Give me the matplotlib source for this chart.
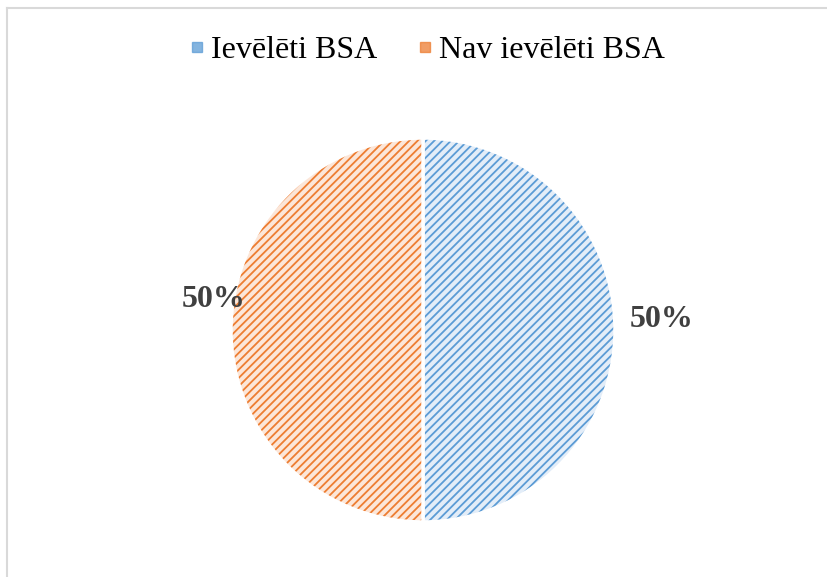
import matplotlib
matplotlib.use("Agg")
import matplotlib.pyplot as plt
from matplotlib.lines import Line2D

labels = ["Ievēlēti BSA", "Nav ievēlēti BSA"]
values = [50, 50]
colors = ["#5B9BD5", "#ED7D31"]
tints = ["#E3EDF8", "#FCE6D8"]

plt.rcParams["font.family"] = ["Liberation Serif", "DejaVu Serif"]
plt.rcParams["hatch.linewidth"] = 1.3

fig = plt.figure(figsize=(8.28, 5.77), dpi=100)
ax = fig.add_axes([0, 0, 1, 1])

wedges, _ = ax.pie(values, colors=tints, startangle=90, counterclock=False,
                   center=(423, 247), radius=192,
                   wedgeprops=dict(edgecolor="white", linewidth=2.5))
for w, c in zip(wedges, colors):
    w.set_hatch("////")
    w._hatch_color = matplotlib.colors.to_rgba(c)

# percentage labels (Excel best-fit positions)
total = sum(values)
ax.text(662, 257, f"{values[0] / total:.0%}", ha="center", va="center",
        fontsize=23, fontweight="bold", color="#404040")
ax.text(214, 277, f"{values[1] / total:.0%}", ha="center", va="center",
        fontsize=23, fontweight="bold", color="#404040")

ax.set_xlim(0, 828)
ax.set_ylim(0, 577)
ax.axis("off")

handles = [Line2D([], [], marker="s", markersize=7, linestyle="none",
                  color=c, alpha=0.75) for c in colors]
fig.legend(handles, labels, loc="center", bbox_to_anchor=(0.517, 0.912),
           ncol=2, frameon=False, fontsize=23, handlelength=0.32,
           handletextpad=0.28, columnspacing=1.33)

# chart area border (top and left visible)
fig.add_artist(Line2D([7 / 828, 1], [1 - 8 / 577, 1 - 8 / 577],
                      transform=fig.transFigure, color="#D9D9D9", lw=1.5))
fig.add_artist(Line2D([7 / 828, 7 / 828], [0, 1 - 8 / 577],
                      transform=fig.transFigure, color="#D9D9D9", lw=1.5))

fig.savefig("out.png", dpi=100)
